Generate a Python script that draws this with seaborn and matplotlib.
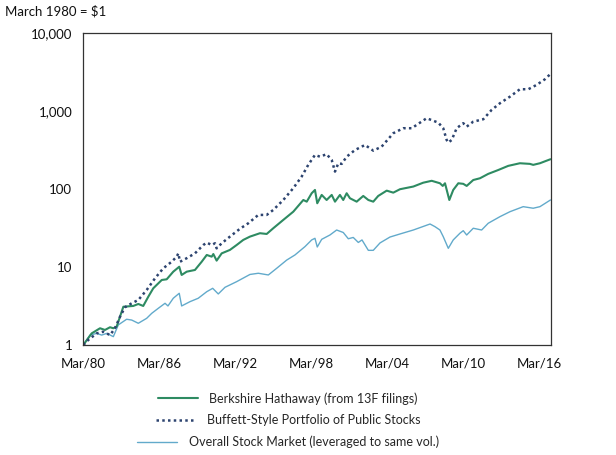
import matplotlib
matplotlib.use("Agg")
import matplotlib.pyplot as plt
import numpy as np
import pandas as pd
import seaborn as sns

# growth of $1 invested in March 1980 (log scale)
berk_years = [1980.25, 1980.91, 1981.57, 1981.96, 1982.36, 1982.62, 1982.88, 1983.41, 1984.19, 1984.59,
              1984.98, 1985.38, 1985.77, 1986.44, 1986.83, 1987.35, 1987.82, 1988.01, 1988.41, 1989.06,
              1989.59, 1989.99, 1990.38, 1990.51, 1990.77, 1991.17, 1991.82, 1992.35, 1992.87, 1993.40,
              1994.19, 1994.72, 1995.24, 1996.03, 1996.82, 1997.61, 1997.88, 1998.27, 1998.53, 1998.71,
              1999.06, 1999.45, 1999.85, 2000.11, 2000.50, 2000.76, 2001.03, 2001.29, 2001.82, 2002.34,
              2002.74, 2003.13, 2003.52, 2004.19, 2004.71, 2005.24, 2006.29, 2007.07, 2007.74, 2008.39,
              2008.61, 2008.79, 2009.13, 2009.44, 2009.84, 2010.23, 2010.50, 2011.02, 2011.55, 2012.20,
              2012.99, 2013.78, 2014.70, 2015.49, 2015.75, 2016.28, 2016.81, 2017.11]
berk_values = [1.0, 1.41, 1.64, 1.56, 1.69, 1.64, 1.72, 3.10, 3.17, 3.36,
               3.17, 4.17, 5.34, 6.83, 6.97, 8.73, 10.1, 7.92, 8.73, 9.18,
               11.7, 14.3, 13.6, 14.7, 12.1, 15.0, 16.6, 19.2, 22.3, 24.6,
               27.2, 26.6, 31.5, 40.3, 51.4, 72.6, 69.1, 88.6, 97.7, 65.9,
               84.3, 72.6, 84.3, 69.1, 84.3, 72.6, 88.6, 76.4, 69.1, 81.8,
               72.6, 69.1, 81.8, 95.7, 90.2, 99.8, 108, 121, 128, 119,
               110, 119, 72.6, 97.7, 119, 117, 110, 131, 138, 157,
               176, 199, 215, 211, 205, 215, 232, 242]

buff_years = [1980.25, 1980.64, 1981.31, 1981.83, 1982.36, 1982.75, 1983.15, 1983.54, 1984.07, 1984.59,
              1985.25, 1985.91, 1986.56, 1987.22, 1987.62, 1987.75, 1987.88, 1988.41, 1989.06, 1989.72,
              1989.99, 1990.38, 1990.64, 1990.77, 1991.17, 1991.82, 1992.61, 1993.27, 1994.06, 1994.72,
              1995.24, 1996.03, 1996.82, 1997.48, 1998.00, 1998.53, 1998.92, 1999.45, 1999.85, 2000.11,
              2000.37, 2000.64, 2001.03, 2001.69, 2002.48, 2003.13, 2003.79, 2004.71, 2005.50, 2006.16,
              2007.34, 2008.26, 2008.65, 2008.92, 2009.05, 2009.32, 2009.71, 2010.23, 2010.50, 2011.02,
              2011.81, 2012.47, 2013.13, 2013.92, 2014.70, 2015.36, 2016.02, 2016.68, 2017.11]
buff_values = [1.0, 1.16, 1.41, 1.48, 1.34, 1.64, 2.31, 3.05, 3.43, 3.78,
               5.08, 7.18, 9.65, 11.7, 13.6, 15.0, 11.7, 13.0, 15.0, 19.2,
               20.6, 19.2, 20.2, 17.4, 20.2, 24.6, 31.0, 36.5, 46.7, 46.7,
               54.1, 72.6, 103, 145, 205, 275, 261, 281, 237, 168,
               215, 211, 261, 318, 369, 312, 351, 522, 605, 605,
               813, 714, 605, 428, 396, 428, 605, 702, 634, 735,
               789, 1040, 1268, 1540, 1915, 1915, 2177, 2576, 3010]

mkt_years = [1980.25, 1980.78, 1981.31, 1981.70, 1982.10, 1982.62, 1983.01, 1983.67, 1984.07, 1984.59,
             1985.25, 1985.65, 1986.17, 1986.70, 1986.93, 1987.35, 1987.82, 1988.01, 1988.67, 1989.32,
             1989.99, 1990.46, 1990.90, 1991.43, 1992.35, 1993.40, 1994.06, 1994.85, 1995.51, 1996.30,
             1996.95, 1997.74, 1998.27, 1998.53, 1998.71, 1999.06, 1999.71, 2000.24, 2000.76, 2001.16,
             2001.55, 2001.95, 2002.24, 2002.74, 2003.13, 2003.66, 2004.45, 2005.24, 2006.29, 2007.61,
             2008.00, 2008.39, 2008.65, 2009.05, 2009.44, 2009.97, 2010.23, 2010.50, 2011.02, 2011.68,
             2012.20, 2013.13, 2013.92, 2014.96, 2015.75, 2016.28, 2017.11]
mkt_values = [1.0, 1.34, 1.41, 1.34, 1.41, 1.28, 1.81, 2.14, 2.09, 1.90,
              2.20, 2.55, 2.96, 3.43, 3.17, 3.98, 4.61, 3.17, 3.60, 3.98,
              4.83, 5.34, 4.52, 5.50, 6.50, 8.04, 8.33, 7.92, 9.65, 12.3,
              14.3, 18.3, 22.3, 23.4, 18.1, 22.7, 25.8, 29.9, 27.8, 23.1,
              24.0, 20.7, 22.3, 16.4, 16.4, 20.4, 24.3, 26.6, 29.9, 35.7,
              33.0, 29.9, 24.6, 17.4, 22.3, 27.2, 29.3, 25.8, 31.5, 29.9,
              36.5, 44.4, 51.4, 59.6, 56.9, 59.6, 72.6]

labels = ["Berkshire Hathaway (from 13F filings)",
          "Buffett-Style Portfolio of Public Stocks",
          "Overall Stock Market (leveraged to same vol.)"]
xtick_pos = [1980.25, 1986.25, 1992.25, 1998.25, 2004.25, 2010.25, 2016.25]
xtick_labels = ["Mar/80", "Mar/86", "Mar/92", "Mar/98", "Mar/04", "Mar/10", "Mar/16"]
ytick_pos = [1, 10, 100, 1000, 10000]
ytick_labels = ["1", "10", "100", "1,000", "10,000"]

sns.set_style("white")
plt.rcParams["font.family"] = ["Lato", "DejaVu Sans"]
plt.rcParams["axes.edgecolor"] = "#333333"
plt.rcParams["axes.linewidth"] = 0.9

fig = plt.figure(figsize=(6.16, 4.55), dpi=100)
ax = fig.add_axes([83.3 / 616, 1 - 345 / 455, (550.7 - 83.3) / 616, (345 - 33.3) / 455])

berk = pd.DataFrame({"year": berk_years, "value": berk_values})
buff = pd.DataFrame({"year": buff_years, "value": buff_values})
mkt = pd.DataFrame({"year": mkt_years, "value": mkt_values})

sns.lineplot(data=mkt, x="year", y="value", ax=ax, color="#62aacb", lw=1.0, label=labels[2])
sns.lineplot(data=berk, x="year", y="value", ax=ax, color="#2e8b62", lw=1.5, label=labels[0])
sns.lineplot(data=buff, x="year", y="value", ax=ax, color="#2d4470", lw=1.8,
             linestyle=(0, (1, 1.3)), label=labels[1])

ax.set_yscale("log")
ax.set_ylim(1, 10000)
ax.set_xlim(1980.25, 2017.13)
ax.set_yticks(ytick_pos)
ax.set_yticklabels(ytick_labels)
ax.yaxis.set_minor_locator(matplotlib.ticker.NullLocator())
ax.set_xticks(xtick_pos)
ax.set_xticklabels(xtick_labels)
ax.tick_params(axis="both", direction="in", length=3, width=0.9, color="#333333",
               labelsize=9.5, pad=8, labelcolor="#111111")
ax.tick_params(axis="x", pad=9)
ax.set_xlabel("")
ax.set_ylabel("")
for s in ax.spines.values():
    s.set_visible(True)

handles = {h.get_label(): h for h in ax.get_lines()}
ax.get_legend().remove()

fig.text(5 / 616, 1 - 11 / 455, "March 1980 = $1", fontsize=9.5, va="center", ha="left", color="#111111")

# each legend row is centred on its own in the reference
row_y = [398.3, 420, 442]
for lab, y in zip(labels, row_y):
    fig.legend([handles[lab]], [lab], loc="center", bbox_to_anchor=(288 / 616, 1 - y / 455),
               frameon=False, fontsize=9, handlelength=3.2, handletextpad=0.9,
               borderpad=0, borderaxespad=0)

fig.savefig("out.png", dpi=100)
